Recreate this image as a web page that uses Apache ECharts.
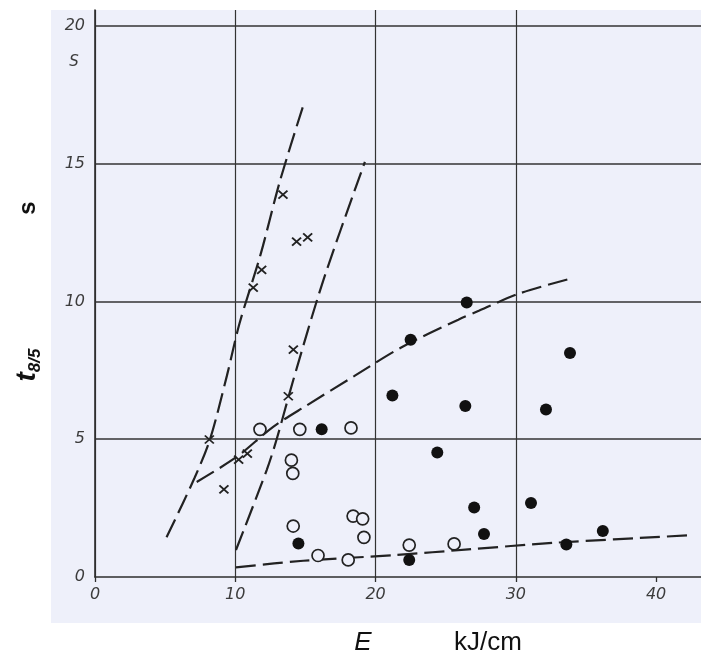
<!DOCTYPE html>
<html><head><meta charset="utf-8">
<script src="https://cdn.jsdelivr.net/npm/echarts@6/dist/echarts.min.js"></script>
<style>html,body{margin:0;padding:0;background:#fff}#c{width:701px;height:661px}</style>
</head><body><div id="c"></div>
<script>
// tick labels
const xTickValues = [0, 10, 20, 30, 40];
const yTickValues = [0, 5, 10, 15, 20];
// measured points (E in kJ/cm, t8/5 in s)
const crosses = [[8.15,4.99],[9.19,3.18],[10.24,4.26],[10.86,4.48],[11.28,10.5],[11.88,11.15],[13.4,13.88],[13.78,6.56],[14.14,8.25],[14.37,12.17],[15.16,12.33]];
const openCircles = [[11.76,5.36],[14.6,5.36],[18.25,5.41],[14.0,4.24],[14.1,3.76],[14.13,1.85],[15.9,0.78],[18.05,0.62],[18.4,2.21],[19.08,2.11],[19.17,1.44],[22.4,1.16],[25.6,1.2]];
const filledCircles = [[16.16,5.36],[14.5,1.22],[26.5,9.96],[22.5,8.61],[21.2,6.59],[26.4,6.21],[32.15,6.08],[24.4,4.52],[33.86,8.13],[27.03,2.52],[31.08,2.69],[27.73,1.56],[22.4,0.62],[33.6,1.18],[36.2,1.67]];
// dashed trend curves
const curveA = [[5.1,1.44],[7.1,3.6],[8.2,5.0],[9.4,7.3],[10.3,9.2],[11.8,11.7],[13.2,14.4],[14.9,17.2]];
const curveB = [[10.05,0.98],[12.24,3.88],[12.95,5.0],[14.13,7.14],[16.27,10.76],[19.24,15.07]];
const curveC = [[7.25,3.45],[10.1,4.36],[12.7,5.45],[15.1,6.23],[18.5,7.3],[21.86,8.34],[25.9,9.34],[27.4,9.67],[30.3,10.3],[34.14,10.86]];
const curveD = [[10.05,0.35],[14.85,0.59],[21.5,0.8],[26.6,1.0],[32.7,1.24],[42.6,1.52]];

const paper = '#eef0fa';
const ink = '#222';
const tickFont = {fontStyle:'italic', fontSize:16, color:'#3c3c3c', fontFamily:'DejaVu Sans'};

function curve(data){
  return {type:'line', data:data, smooth:0.3, showSymbol:false, symbol:'none', z:2,
    lineStyle:{color:ink, width:2.2, type:[20,7], opacity:1}};
}

const chart = echarts.init(document.getElementById('c'));
chart.setOption({
  animation:false,
  backgroundColor:'#ffffff',
  grid:{left:95, right:0, top:10, bottom:84},
  xAxis:{type:'value', min:0, max:43.2, interval:10,
    axisLine:{show:true, lineStyle:{color:'#2e2e2e', width:1.6}},
    axisTick:{show:true, length:5, customValues:xTickValues, lineStyle:{color:'#2e2e2e', width:1.3}},
    axisLabel:Object.assign({margin:10, customValues:xTickValues}, tickFont),
    splitLine:{show:true, showMaxLine:false, lineStyle:{color:'#333', width:1.2}}},
  yAxis:{type:'value', min:0, max:20.58, interval:5,
    axisLine:{show:true, lineStyle:{color:'#2e2e2e', width:1.6}},
    axisTick:{show:false},
    axisLabel:Object.assign({margin:10, customValues:yTickValues}, tickFont),
    splitLine:{show:true, showMaxLine:false, showMinLine:false, lineStyle:{color:'#333', width:1.5}}},
  graphic:{elements:[
    {type:'rect', z:-100, silent:true, shape:{x:51, y:10, width:650, height:613}, style:{fill:paper}},
    {type:'text', style:{text:'S', x:74, y:62, align:'center', verticalAlign:'middle', font:'italic 15px "DejaVu Sans"', fill:'#3c3c3c'}},
    {type:'text', x:28, y:208, rotation:Math.PI/2, style:{text:'s', x:0, y:0, align:'center', verticalAlign:'middle', font:'bold 24px "Liberation Sans"', fill:'#111'}},
    {type:'text', x:27, y:365, rotation:Math.PI/2, style:{text:'{t|t}{s|8/5}', x:0, y:0, align:'center', verticalAlign:'middle',
      rich:{t:{font:'italic bold 28px "Liberation Sans"', fill:'#111', verticalAlign:'middle', lineHeight:34},
            s:{font:'italic bold 17px "Liberation Sans"', fill:'#111', verticalAlign:'bottom', lineHeight:34}}}},
    {type:'text', style:{text:'E', x:363, y:643, align:'center', verticalAlign:'middle', font:'italic 26px "Liberation Sans"', fill:'#111'}},
    {type:'text', style:{text:'kJ/cm', x:488, y:643, align:'center', verticalAlign:'middle', font:'26px "Liberation Sans"', fill:'#111'}}
  ]},
  series:[
    curve(curveA), curve(curveB), curve(curveC), curve(curveD),
    {type:'scatter', data:crosses, symbol:'path://M0 0L10 10M10 0L0 10', symbolSize:[9,8], z:3,
      itemStyle:{color:'transparent', borderColor:'#222', borderWidth:1.8, opacity:1}},
    {type:'scatter', data:openCircles, symbol:'circle', symbolSize:12, z:3,
      itemStyle:{color:paper, borderColor:'#222', borderWidth:1.7, opacity:1}},
    {type:'scatter', data:filledCircles, symbol:'circle', symbolSize:12, z:3,
      itemStyle:{color:'#111', borderWidth:0, opacity:1}}
  ]
});
</script></body></html>
